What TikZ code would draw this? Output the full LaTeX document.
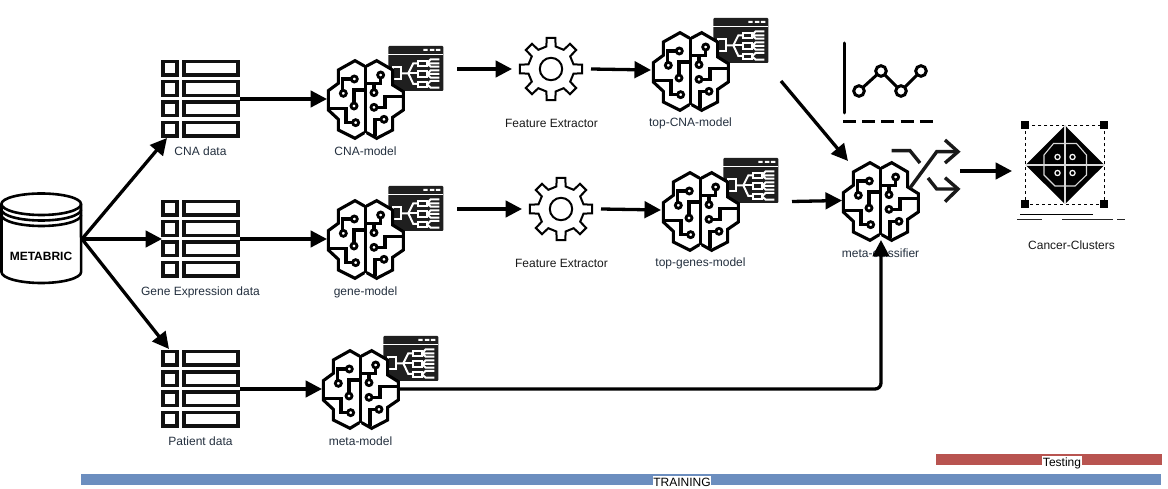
\documentclass[tikz,border=0pt]{standalone}
\usepackage{fontspec}
\setmainfont{Liberation Sans}
\definecolor{slate}{HTML}{232F3E}
\definecolor{ink}{HTML}{111111}
\definecolor{trainblue}{HTML}{6C8EBF}
\definecolor{testred}{HTML}{B85450}
\usetikzlibrary{arrows.meta}
\tikzset{
  flow/.style={line width=3.3pt,-{Triangle[length=16.5pt,width=16.5pt]},black},
  lab/.style={font=\fontsize{12}{14}\selectfont,text=slate,inner sep=0pt},
  labk/.style={font=\fontsize{12}{14}\selectfont,text=black!90,inner sep=0pt},
  barlab/.style={font=\fontsize{12}{14}\selectfont,text=black,fill=white,inner sep=0.5pt,minimum height=14pt},
  bline/.style={line width=3.1pt,black,line join=miter},
  ring/.style={line width=2.8pt,black,fill=white},
}
% brain; local coordinates are 3x pixels
\newcommand{\brainicon}[2]{%
\begin{scope}[shift={(#1,#2)},x=0.3333pt,y=-0.3333pt]
  \fill[white] (166,106)--(135,92)--(85,120)--(85,160)--(55,182)--(55,240)--(85,268)--(85,300)--(135,325)--(166,308)--(200,325)--(248,300)--(248,262)--(280,240)--(280,185)--(248,165)--(248,120)--(200,92)--cycle;
  \draw[bline] (163,108)--(135,92)--(85,120)--(85,160)--(55,182)--(55,240)--(85,268)--(85,300)--(135,325)--(163,308);
  \draw[bline] (170,108)--(200,92)--(248,120)--(248,165)--(280,185)--(280,240)--(248,262)--(248,300)--(200,325)--(170,308);
  \draw[bline] (166.5,106)--(166.5,310);
  \draw[bline] (122,147)--(97,147)--(97,180);
  \draw[bline] (132,218)--(132,180)--(166,180);
  \draw[bline] (125,278)--(108,278)--(108,236)--(55,236);
  \draw[bline] (212,146)--(212,160)--(166,160);
  \draw[bline] (192,178)--(192,160);
  \draw[bline] (203,232)--(225,232)--(225,200)--(280,200);
  \draw[bline] (212,268)--(195,268)--(195,318);
  \foreach \p in {(133,147),(100,190),(132,228),(137,278),(212,135),(192,188),(192,232),(222,268)}
    \draw[ring] \p circle (9);
\end{scope}}
% window with tree
\newcommand{\winicon}[2]{%
\begin{scope}[shift={(#1,#2)},x=0.3333pt,y=-0.3333pt]
  \fill[black!88,rounded corners=1pt] (235,48) rectangle (400,183);
  \draw[white,line width=1pt] (235,74)--(400,74);
  \fill[white] (340,57) rectangle (353,63) (360,57) rectangle (373,63) (378,57) rectangle (391,63);
  \begin{scope}[white,line width=2pt,line join=miter]
    \draw (248,110) rectangle (272,148);
    \draw (272,130)--(295,130)--(310,100)--(325,100);
    \draw (295,130)--(325,130);
    \draw (295,130)--(310,162)--(325,162);
    \draw (325,92) rectangle (351,108);
    \draw (325,124) rectangle (351,140);
    \draw (325,155) rectangle (351,171);
    \draw (351,100)--(362,88)--(388,88) (351,100)--(388,100) (351,100)--(362,110)--(388,110);
    \draw (351,132)--(362,121)--(388,121) (351,132)--(388,132) (351,132)--(362,143)--(388,143);
    \draw (351,163)--(362,153)--(388,153) (351,163)--(362,173)--(388,173);
  \end{scope}
\end{scope}}
% four-row table
\newcommand{\tableicon}[2]{%
\begin{scope}[shift={(#1,#2)}]
  \foreach \r in {0,20.3,40.6,61}{
    \draw[ink,line width=3.4pt] (163,\r+61.5) rectangle (177,\r+75);
    \draw[ink,line width=3.4pt] (184,\r+61.5) rectangle (238,\r+75);
  }
\end{scope}}
% gear
\newcommand{\gearicon}[2]{%
\begin{scope}[shift={(#1,#2)}]
  \draw[black,line width=2pt,line join=miter,fill=white]
    (-11.5:23) \foreach \a in {0,45,...,315}{ -- (\a-11.5:23) -- (\a-8:31.5) -- (\a+8:31.5) -- (\a+11.5:23) } -- cycle;
  \draw[black,line width=2pt] (0,0) circle (11.2);
\end{scope}}
\begin{document}
\begin{tikzpicture}[x=1pt,y=-1pt]
\useasboundingbox (0,0) rectangle (1168,489);
% database (arc angles run clockwise on screen here because y points down)
\draw[black,line width=2.6pt,fill=white] (1.5,204) -- (1.5,272) arc[start angle=180,end angle=0,x radius=39.8,y radius=11] -- (81,204) arc[start angle=0,end angle=-180,x radius=39.8,y radius=10.5];
\draw[black,line width=2.6pt] (1.5,204) arc[start angle=180,end angle=0,x radius=39.8,y radius=11];
\draw[black,line width=2.6pt] (1.5,209.5) arc[start angle=180,end angle=0,x radius=39.8,y radius=11];
\draw[black,line width=2.6pt] (1.5,215) arc[start angle=180,end angle=0,x radius=39.8,y radius=11];
\node[font=\bfseries\fontsize{12}{14}\selectfont,inner sep=0pt,text=black] (metabric) at (41,256) {METABRIC};
\coordinate (dbport) at (82,239);
% tables
\tableicon{0}{0}\tableicon{0}{140}\tableicon{0}{290}
\coordinate (cnaIn) at (167,138);
\coordinate (geneIn) at (162,239);
\coordinate (patIn) at (169,349);
\coordinate (cnaOut) at (240,99);
\coordinate (geneOut) at (240,239);
\coordinate (patOut) at (240,389);
\node[lab] (lcna) at (200.5,151.5) {CNA data};
\node[lab] (lgene) at (200.5,292) {Gene Expression data};
\node[lab] (lpat) at (200.5,441) {Patient data};
% models
\winicon{310}{30}\brainicon{310}{30}
\winicon{310}{170}\brainicon{310}{170}
\winicon{305}{320}\brainicon{305}{320}
\winicon{635}{2}\brainicon{635}{2}
\winicon{645}{142}\brainicon{645}{142}
\coordinate (cnaM) at (327,99);
\coordinate (geneM) at (327,239);
\coordinate (metaM) at (322,389);
\coordinate (metaMout) at (398,389);
\node[lab] (lcnam) at (365.5,151.5) {CNA-model};
\node[lab] (lgenem) at (365.5,292) {gene-model};
\node[lab] (lmetam) at (360.5,441) {meta-model};
% gears
\gearicon{551}{69}\gearicon{561}{209}
\coordinate (g1in) at (512,69);\coordinate (g1s) at (457,69);
\coordinate (g1out) at (591,69);\coordinate (tc) at (651,70);
\coordinate (g2in) at (522,209);\coordinate (g2s) at (457,209);
\coordinate (g2out) at (601,209);\coordinate (tg) at (661,210);
\node[labk] (lfe1) at (551.5,123) {Feature Extractor};
\node[labk] (lfe2) at (561.5,263) {Feature Extractor};
\node[lab] (ltc) at (690.5,123.7) {top-CNA-model};
\node[lab] (ltg) at (700.5,263.7) {top-genes-model};
% meta classifier
\brainicon{825}{132}
\node[lab] (lmc) at (880.5,253) {meta-classifier};
\coordinate (tcOut) at (781,81);\coordinate (mcA) at (848,161);
\coordinate (tgOut) at (792,201.5);\coordinate (mcB) at (842,200.5);
\coordinate (mcC) at (881,240);\coordinate (corner) at (881,389);
% chart
\draw[black,line width=3pt,line cap=round] (844,43)--(844,113);
\draw[black,line width=3pt,dash pattern=on 13pt off 6.2pt] (843,122)--(933,122);
\draw[black,line width=3pt] (859,91)--(881,71)--(901,91)--(921,71);
\foreach \p in {(859,91),(881,71),(901,91),(921,71)}
  \draw[black,line width=3pt,fill=white] \p circle (5.3);
% shuffle
\begin{scope}[black!90,line width=3.4pt,line join=miter]
  \draw (891.7,150.7)--(910,150.7)--(920,163);
  \draw (910,188)--(936.7,151.7)--(957,151.7);
  \draw (945,140)--(958,151.7)--(945,163);
  \draw (928,178)--(936.7,189)--(957,189);
  \draw (945,177.7)--(958,189)--(945,201.7);
\end{scope}
% cluster
\draw[black,line width=1.3pt,dash pattern=on 3pt off 3pt] (1025.3,125.3) rectangle (1104.3,204.3);
\foreach \p in {(1025.3,125.3),(1104.3,125.3),(1025.3,204.3),(1104.3,204.3)}
  \fill[black] \p ++(-4,-4) rectangle ++(8,8);
\fill[black] (1065,125.5)--(1104.3,165)--(1065,204)--(1025.5,165)--cycle;
\draw[white!85!black,line width=1.1pt] (1065,125.5)--(1065,204) (1025.5,165)--(1104.3,165);
\draw[white!85!black,line width=1.1pt] (1053.5,143.5)--(1076.5,143.5)--(1086.5,155)--(1086.5,175)--(1075,186)--(1055,186)--(1044,175)--(1044,155)--cycle;
\foreach \p in {(1057.5,157),(1072.5,157),(1057.5,173),(1072.5,173)}
  \draw[white,line width=1.2pt] \p circle (2.6);
\draw[black,line width=1.2pt] (1020,214.5)--(1093,214.5);
\draw[black!85,line width=1.2pt] (1017,219.5)--(1042,219.5) (1062,219.5)--(1113,219.5) (1117,219.5)--(1125,219.5);
\node[labk] (lcc) at (1071.5,245) {Cancer-Clusters};
\coordinate (ccIn) at (1012,171);\coordinate (shOut) at (960,171);
% connectors
\draw[flow] (dbport)--(cnaIn);
\draw[flow] (dbport)--(geneIn);
\draw[flow] (dbport)--(patIn);
\draw[flow] (cnaOut)--(cnaM);
\draw[flow] (geneOut)--(geneM);
\draw[flow] (patOut)--(metaM);
\draw[flow] (g1s)--(g1in);
\draw[flow] (g1out)--(tc);
\draw[flow] (g2s)--(g2in);
\draw[flow] (g2out)--(tg);
\draw[flow] (tcOut)--(mcA);
\draw[flow] (tgOut)--(mcB);
\draw[flow,rounded corners=6pt] (metaMout)--(corner)--(mcC);
\draw[flow] (shOut)--(ccIn);
% bars
\fill[trainblue] (81,474) rectangle (1161,485);
\fill[testred] (935.5,454) rectangle (1161.5,465);
\node[barlab] (train) at (682,482.5) {TRAINING};
\node[barlab] (test) at (1062,463) {Testing};
\end{tikzpicture}
\end{document}
